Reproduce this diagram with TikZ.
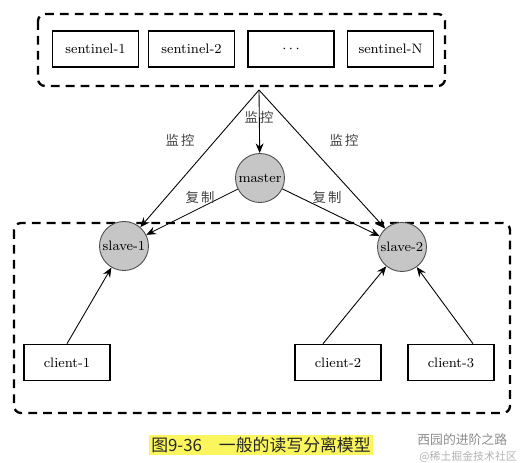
\documentclass[tikz,border=0pt]{standalone}
\usepackage{fontspec}
\usepackage{tikz}
\usetikzlibrary{arrows.meta}
\newfontfamily\cjk{Noto Sans CJK SC}
\definecolor{rolegray}{HTML}{C6C6C6}
\definecolor{hlyellow}{HTML}{FBF65E}
\definecolor{wmgray}{HTML}{8C8C8C}
\tikzset{
  dashframe/.style={draw, line width=1.3pt, dash pattern=on 5pt off 3.5pt, rounded corners=4pt},
  hostbox/.style={draw, line width=0.9pt, minimum width=1.72cm, minimum height=0.72cm,
                  inner sep=1pt, font=\fontsize{7.8}{9}\selectfont},
  role/.style={circle, draw=black!70, line width=0.5pt, fill=rolegray, minimum size=0.98cm,
               inner sep=0pt, font=\fontsize{7.8}{9}\selectfont},
  link/.style={-{Stealth[length=5.5pt,width=4.5pt]}, line width=0.5pt},
  lbl/.style={font=\cjk\fontsize{7.6}{8}\selectfont, text=black!75, inner sep=1pt},
}

\begin{document}
\begin{tikzpicture}[x=0.02cm, y=-0.02cm]
    \useasboundingbox (0,0) rectangle (532,463);

    % --- sentinel group ---------------------------------------------------
    \draw[dashframe] (38,14) rectangle (445,86);
    \node[hostbox] (sent1)    at ( 95.5,49) {sentinel-1};
    \node[hostbox] (sent2)    at (191.5,49) {sentinel-2};
    \node[hostbox] (sentdots) at (291.0,49) {$\cdots$};
    \node[hostbox] (sentN)    at (390.5,49) {sentinel-N};
    \coordinate (apex) at (259,90);

    % --- redis nodes ------------------------------------------------------
    \draw[dashframe] (14,223) rectangle (510,413);
    \node[role] (master) at (260,178) {master};
    \node[role] (slave1) at (124,246) {slave-1};
    \node[role] (slave2) at (402,247) {slave-2};

    \node[hostbox] (client1) at ( 67,362.5) {client-1};
    \node[hostbox] (client2) at (338,362.5) {client-2};
    \node[hostbox] (client3) at (451,362.5) {client-3};

    % --- monitoring and replication ---------------------------------------
    \draw[link] (apex) -- (slave1);
    \draw[link] (apex) -- (master);
    \draw[link] (apex) -- (slave2);
    \draw[link] (master) -- (slave1);
    \draw[link] (master) -- (slave2);

    \draw[link] (client1.north) -- (slave1);
    \draw[link] ([xshift=-0.3cm]client2.north) -- (slave2);
    \draw[link] ([xshift=0.44cm]client3.north) -- (slave2);

    \node[lbl] (mon1) at (180,140) {监\,控};
    \node[lbl] (mon2) at (259,117) {监\,控};
    \node[lbl] (mon3) at (344,140) {监\,控};
    \node[lbl] (rep1) at (200,197) {复\,制};
    \node[lbl] (rep2) at (327,197) {复\,制};

    % --- caption and source -----------------------------------------------
    \node[fill=hlyellow, inner sep=1.5pt, text=black!85, font=\cjk\fontsize{9.6}{10}\selectfont] (cap)
      at (261,445) {图9-36\quad 一般的读写分离模型};
    \node[anchor=west, inner sep=0pt, text=wmgray, font=\cjk\fontsize{7.3}{8}\selectfont] (wm1)
      at (417,440) {西园的进阶之路};
    \node[anchor=west, inner sep=0pt, text=black!30, font=\cjk\fontsize{6.2}{7}\selectfont] (wm2)
      at (419,457) {@稀土掘金技术社区};
\end{tikzpicture}
\end{document}
